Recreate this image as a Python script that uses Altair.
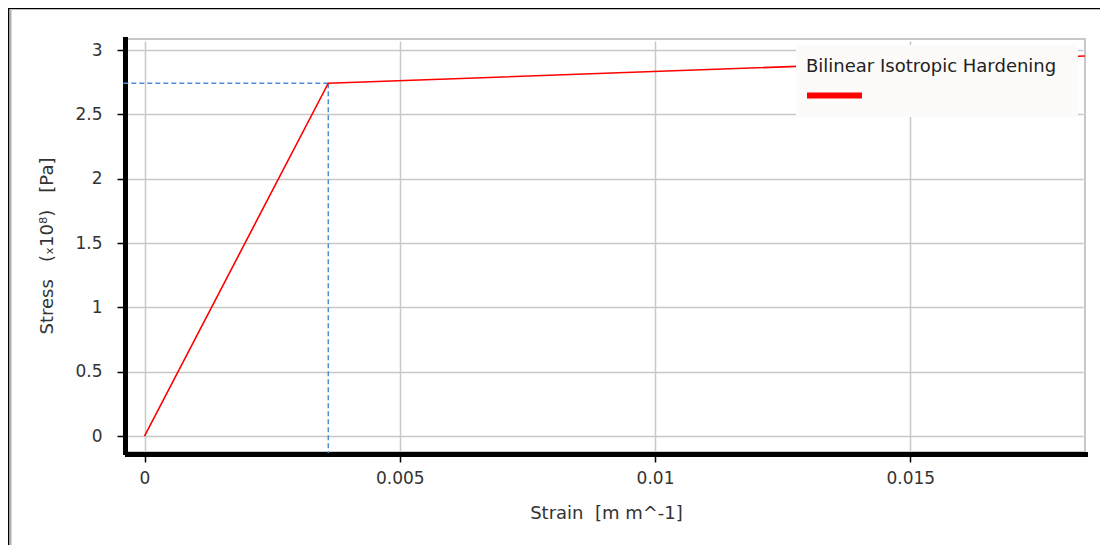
import altair as alt
import pandas as pd

# ---- data ----
strain = [0.0, 0.00360, 0.01842]          # m m^-1
stress = [0.0, 2.742, 2.953]              # x1e8 Pa
yield_strain = [0.00360]
yield_stress = [2.742]
series_names = ["Bilinear Isotropic Hardening"]
x_ticks = [0, 0.005, 0.01, 0.015]
y_ticks = [0, 0.5, 1, 1.5, 2, 2.5, 3]
x_domain = [-0.000343, 0.018422]
y_domain = [-0.1243, 3.0855]

NB = "\u00a0"
x_title = "Strain" + NB * 2 + "[m" + NB + "m^-1]"
y_title = "Stress" + NB * 3 + "(ₓ10⁸)" + NB * 3 + "[Pa]"

W, H = 958, 413

curve = pd.DataFrame({"strain": strain, "stress": stress, "series": series_names[0]})
yld = pd.DataFrame({"ys": yield_strain, "yst": yield_stress})
leg = pd.DataFrame({"name": series_names})

xs = alt.Scale(domain=x_domain, nice=False, zero=False)
ys = alt.Scale(domain=y_domain, nice=False, zero=False)

xaxis = alt.Axis(values=x_ticks, labelExpr="'' + datum.value", title=x_title,
                 labelPadding=8, titlePadding=18)
yaxis = alt.Axis(values=y_ticks, labelExpr="'' + datum.value", title=y_title,
                 labelPadding=15, titlePadding=18)

line = alt.Chart(curve).mark_line(color="#ff0000", strokeWidth=1.6).encode(
    x=alt.X("strain:Q", scale=xs, axis=xaxis),
    y=alt.Y("stress:Q", scale=ys, axis=yaxis),
)

blue = "#4a90d9"
hdash = alt.Chart(yld).mark_rule(color=blue, strokeWidth=1.5, strokeDash=[5, 3]).encode(
    x=alt.X("ys:Q", scale=xs), x2=alt.value(-4), y=alt.Y("yst:Q", scale=ys)
)
vdash = alt.Chart(yld).mark_rule(color=blue, strokeWidth=1.5, strokeDash=[5, 3]).encode(
    x=alt.X("ys:Q", scale=xs), y=alt.Y("yst:Q", scale=ys), y2=alt.value(H + 1)
)

# legend (label above the swatch, as in the reference)
leg_bg = alt.Chart(leg).mark_rect(color="#fcfbf9").encode(
    x=alt.value(669), x2=alt.value(951), y=alt.value(6), y2=alt.value(78)
)
leg_txt = alt.Chart(leg).mark_text(align="left", baseline="alphabetic", font="DejaVu Sans",
                                   fontSize=18, color="#222").encode(
    text="name:N", x=alt.value(679), y=alt.value(33)
)
leg_sw = alt.Chart(leg).mark_rule(color="#ff0000", strokeWidth=6).encode(
    x=alt.value(680), x2=alt.value(735), y=alt.value(56.5)
)

# outer frame of the picture
frame_l = alt.Chart(leg).mark_rule(color="black", strokeWidth=1.5).encode(
    x=alt.value(-118.5), y=alt.value(-31), y2=alt.value(520)
)
frame_l2 = alt.Chart(leg).mark_rule(color="#b0b0b0", strokeWidth=2).encode(
    x=alt.value(-116.5), y=alt.value(-29), y2=alt.value(520)
)
frame_t = alt.Chart(leg).mark_rule(color="black", strokeWidth=1.5).encode(
    x=alt.value(-119), x2=alt.value(990), y=alt.value(-30.5)
)

chart = alt.layer(frame_l2, frame_l, frame_t, hdash, vdash, line, leg_bg, leg_txt, leg_sw).properties(
    width=W, height=H,
    padding={"left": 119, "top": 31, "right": 15, "bottom": 93},
    autosize=alt.AutoSizeParams(type="none"),
    background="white",
).configure_axis(
    labelFont="DejaVu Sans", titleFont="DejaVu Sans",
    labelColor="#333", titleColor="#333",
    labelFontSize=17, titleFontSize=18, titleFontWeight="normal",
    gridColor="#c8c8c8", gridWidth=1.5,
    domainColor="black", domainWidth=5, domainCap="square",
    tickColor="black", tickWidth=1.5, tickSize=8, offset=2,
).configure_view(stroke="#c8c8c8", strokeWidth=2)

chart.save("out.html", embed_options={"renderer": "svg", "actions": False})
